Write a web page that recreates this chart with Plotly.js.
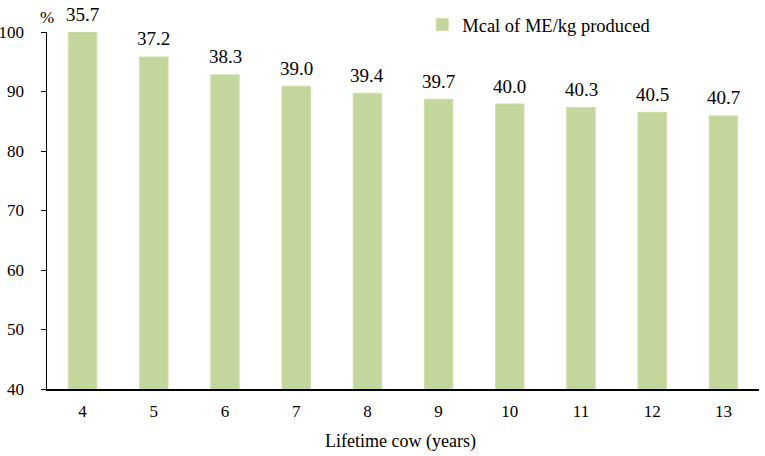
<!DOCTYPE html>
<html>
<head>
<meta charset="utf-8">
<script src="https://cdn.plot.ly/plotly-3.0.1.min.js"></script>
<style>
  body { margin: 0; background: #fff; }
  #chart { width: 765px; height: 456px; }
</style>
</head>
<body>
<div id="chart"></div>
<script>
// lifetime of the cow, years
const years = ['4', '5', '6', '7', '8', '9', '10', '11', '12', '13']
// relative value, %
const percent = [100, 95.8, 92.8, 90.9, 89.7, 88.7, 87.9, 87.3, 86.5, 85.9]
// Mcal of ME/kg produced, printed above each bar
const mcal = ['35.7', '37.2', '38.3', '39.0', '39.4', '39.7', '40.0', '40.3', '40.5', '40.7']

const serif = 'Times New Roman, Liberation Serif, serif'

const trace = {
  x: years,
  y: percent,
  type: 'bar',
  name: 'Mcal of ME/kg produced',
  marker: { color: '#c3d69b', line: { color: '#cfe0aa', width: 1 } },
  cliponaxis: false,
  hoverinfo: 'none'
}

// value labels above the bars (x is the category index)
const labels = years.map((yr, i) => ({
  x: i, y: percent[i], xref: 'x', yref: 'y',
  text: mcal[i], showarrow: false,
  xanchor: 'center', yanchor: 'middle', yshift: 18,
  font: { family: serif, size: 19, color: '#000' }
}))

const layout = {
  width: 765,
  height: 456,
  margin: { l: 47, r: 6, t: 32, b: 67 },
  paper_bgcolor: '#fff',
  plot_bgcolor: '#fff',
  font: { family: serif, size: 17, color: '#000' },
  bargap: 0.6,
  showlegend: true,
  legend: {
    x: 0.527, y: 1.02, xanchor: 'left', yanchor: 'middle',
    font: { family: serif, size: 18.5 },
    bgcolor: 'rgba(0,0,0,0)'
  },
  xaxis: {
    type: 'category',
    showline: true,
    linecolor: '#000',
    linewidth: 1.5,
    ticks: '',
    ticklabelstandoff: 6,
    tickfont: { family: serif, size: 17 },
    showgrid: false,
    zeroline: false
  },
  yaxis: {
    range: [40, 100],
    dtick: 10,
    showline: true,
    linecolor: '#000',
    linewidth: 1.5,
    ticks: 'outside',
    ticklen: 5,
    tickcolor: '#000',
    ticklabelstandoff: 13,
    tickfont: { family: serif, size: 17 },
    showgrid: false,
    zeroline: false
  },
  annotations: labels.concat([
    {
      text: '%', xref: 'paper', yref: 'paper', x: 0, y: 1.04,
      xanchor: 'center', yanchor: 'middle', showarrow: false,
      font: { family: serif, size: 17 }
    },
    {
      text: 'Lifetime cow (years)', xref: 'paper', yref: 'paper',
      x: 0.4965, y: -0.147, xanchor: 'center', yanchor: 'middle',
      showarrow: false, font: { family: serif, size: 18 }
    }
  ])
}

Plotly.newPlot('chart', [trace], layout, { displayModeBar: false, staticPlot: true })
</script>
</body>
</html>
